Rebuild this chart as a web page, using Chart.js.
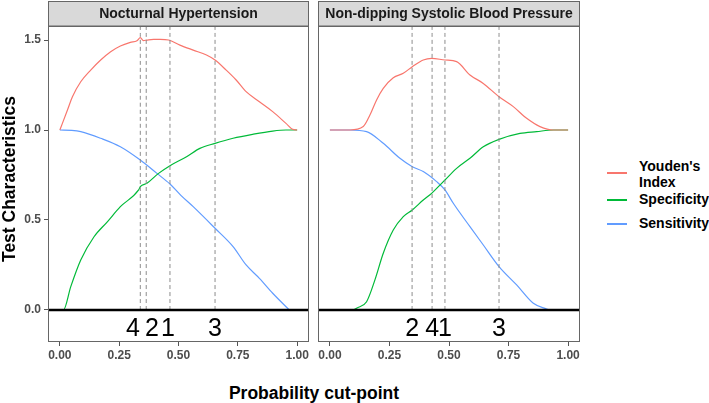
<!DOCTYPE html>
<html>
<head>
<meta charset="utf-8">
<script src="https://cdn.jsdelivr.net/npm/chart.js@4"></script>
<style>
body { margin:0; background:#fff; font-family:"Liberation Sans", Arial, sans-serif; }
#wrap { position:relative; width:709px; height:403px; overflow:hidden; }
canvas { position:absolute; top:0; }
#c1 { left:0; }
#c2 { left:310px; }
.ytitle { position:absolute; left:-91px; top:169px; width:200px; text-align:center; font-weight:bold; font-size:17.5px; line-height:20px; transform:rotate(-90deg); color:#000; }
.xtitle { position:absolute; left:164px; top:383px; width:300px; text-align:center; font-weight:bold; font-size:17.5px; line-height:20px; color:#000; }
.leg { position:absolute; left:607px; font-weight:bold; font-size:14px; color:#000; }
.leg span.ln { position:absolute; left:0; width:20px; height:1.5px; }
.leg span.tx { position:absolute; left:32px; white-space:nowrap; line-height:16px; }
</style>
</head>
<body>
<div id="wrap">
  <canvas id="c1" width="312" height="372"></canvas>
  <canvas id="c2" width="275" height="372"></canvas>
  <div class="ytitle">Test Characteristics</div>
  <div class="xtitle">Probability cut-point</div>
  <div class="leg" style="top:172px"><span class="ln" style="background:#F8766D"></span><span class="tx" style="top:-14px">Youden's<br>Index</span></div>
  <div class="leg" style="top:199px"><span class="ln" style="background:#00BA38"></span><span class="tx" style="top:-8px">Specificity</span></div>
  <div class="leg" style="top:223px"><span class="ln" style="background:#619CFF"></span><span class="tx" style="top:-8px">Sensitivity</span></div>
</div>
<script>
// axis ranges
var X_MIN = -0.05, X_MAX = 1.05;
var Y_MIN = -0.178, Y_MAX = 1.578;
var xTicks = [0, 0.25, 0.5, 0.75, 1];
var yTicks = [0, 0.5, 1, 1.5];

// Nocturnal Hypertension
var nhYoudenX = [0.0, 0.032, 0.053, 0.088, 0.130, 0.172, 0.214, 0.255, 0.297, 0.325, 0.339, 0.352, 0.367, 0.395, 0.423, 0.458, 0.506, 0.562, 0.618, 0.654, 0.701, 0.743, 0.785, 0.841, 0.897, 0.953, 0.981, 1.0];
var nhYoudenY = [1.0, 1.111, 1.185, 1.268, 1.333, 1.389, 1.435, 1.467, 1.487, 1.496, 1.513, 1.497, 1.5, 1.504, 1.504, 1.5, 1.472, 1.444, 1.417, 1.389, 1.333, 1.278, 1.213, 1.157, 1.102, 1.037, 1.004, 1.0];
var nhSpecX = [0.0, 0.015, 0.046, 0.088, 0.144, 0.2, 0.255, 0.332, 0.339, 0.367, 0.416, 0.464, 0.534, 0.59, 0.654, 0.73, 0.813, 0.897, 0.953, 1.0];
var nhSpecY = [0.0, 0.0, 0.13, 0.278, 0.407, 0.49, 0.574, 0.667, 0.685, 0.704, 0.759, 0.802, 0.852, 0.898, 0.926, 0.954, 0.976, 0.994, 1.0, 1.0];
var nhSensX = [0.0, 0.05, 0.088, 0.172, 0.255, 0.339, 0.409, 0.464, 0.51, 0.562, 0.654, 0.73, 0.785, 0.841, 0.897, 0.967];
var nhSensY = [1.0, 0.998, 0.991, 0.954, 0.907, 0.833, 0.759, 0.700, 0.637, 0.574, 0.454, 0.352, 0.25, 0.176, 0.093, 0.0];
var nhCuts = [0.339, 0.364, 0.464, 0.654];
var nhLabels = ['4', '2', '1', '3'];
var nhLabelX = [0.308, 0.388, 0.456, 0.654];

// Non-dipping Systolic Blood Pressure
var ndYoudenX = [0.0, 0.084, 0.14, 0.168, 0.196, 0.224, 0.266, 0.308, 0.346, 0.392, 0.427, 0.483, 0.532, 0.588, 0.644, 0.71, 0.77, 0.826, 0.882, 0.938, 1.0];
var ndYoudenY = [1.0, 1.0, 1.019, 1.083, 1.167, 1.231, 1.29, 1.315, 1.352, 1.389, 1.398, 1.389, 1.38, 1.306, 1.259, 1.185, 1.13, 1.065, 1.019, 1.0, 1.0];
var ndSpecX = [0.1, 0.112, 0.154, 0.189, 0.224, 0.266, 0.308, 0.346, 0.392, 0.427, 0.462, 0.483, 0.532, 0.588, 0.644, 0.71, 0.798, 0.868, 0.938, 1.0];
var ndSpecY = [0.0, 0.01, 0.046, 0.167, 0.315, 0.444, 0.519, 0.556, 0.611, 0.648, 0.694, 0.722, 0.787, 0.843, 0.907, 0.948, 0.981, 0.991, 1.0, 1.0];
var ndSensX = [0.0, 0.084, 0.154, 0.224, 0.294, 0.346, 0.392, 0.448, 0.483, 0.518, 0.588, 0.644, 0.71, 0.784, 0.854, 0.91, 0.92];
var ndSensY = [1.0, 1.0, 0.991, 0.926, 0.843, 0.796, 0.769, 0.713, 0.667, 0.593, 0.463, 0.361, 0.241, 0.139, 0.037, 0.005, 0.0];
var ndCuts = [0.345, 0.429, 0.483, 0.71];
var ndLabels = ['2', '4', '1', '3'];
var ndLabelX = [0.345, 0.429, 0.483, 0.71];

var FONT = '"Liberation Sans", Arial, sans-serif';

function pts(xs, ys) {
    var out = [];
    for (var i = 0; i < xs.length; i++) out.push({x: xs[i], y: ys[i]});
    return out;
}

var panelDeco = {
    id: 'panelDeco',
    afterDraw: function(chart, args, opts) {
        var ctx = chart.ctx, a = chart.chartArea;
        ctx.save();
        // strip
        ctx.fillStyle = '#d9d9d9';
        ctx.fillRect(a.left, 1, a.right - a.left, a.top - 1);
        ctx.strokeStyle = '#666';
        ctx.lineWidth = 1;
        ctx.strokeRect(a.left + 0.5, 1.5, a.right - a.left - 1, a.top - 1.5);
        ctx.fillStyle = '#1a1a1a';
        ctx.font = 'bold 14px ' + FONT;
        ctx.textAlign = 'center';
        ctx.textBaseline = 'middle';
        ctx.fillText(opts.title, (a.left + a.right) / 2, a.top / 2 + 1);
        // panel border
        ctx.strokeRect(a.left + 0.5, a.top + 0.5, a.right - a.left - 1, a.bottom - a.top - 1);
        // cut-point numbers
        ctx.fillStyle = '#000';
        ctx.font = '25px ' + FONT;
        var xs = chart.scales.x, ysc = chart.scales.y;
        for (var i = 0; i < opts.labels.length; i++) {
            ctx.fillText(opts.labels[i], xs.getPixelForValue(opts.labelX[i]), ysc.getPixelForValue(-0.1) + 1);
        }
        ctx.restore();
    }
};

function makePanel(id, title, yx, yy, spx, spy, sex, sey, cuts, labels, labelX, showY) {
    var datasets = [];
    datasets.push({data: [{x: X_MIN, y: 0}, {x: X_MAX, y: 0}], borderColor: '#000', borderWidth: 2.6});
    for (var i = 0; i < cuts.length; i++) {
        datasets.push({data: [{x: cuts[i], y: 0}, {x: cuts[i], y: Y_MAX}], borderColor: '#8c8c8c', borderWidth: 1, borderDash: [4, 3]});
    }
    datasets.push({data: pts(yx, yy), borderColor: '#F8766D', borderWidth: 1.2});
    datasets.push({data: pts(spx, spy), borderColor: '#00BA38', borderWidth: 1.2});
    datasets.push({data: pts(sex, sey), borderColor: '#619CFF', borderWidth: 1.2});

    return new Chart(document.getElementById(id), {
        type: 'line',
        data: {datasets: datasets},
        options: {
            responsive: false,
            animation: false,
            events: [],
            elements: {point: {radius: 0}, line: {cubicInterpolationMode: 'monotone'}},
            layout: {padding: {top: 26, right: showY ? 3 : 5, left: 0, bottom: 0}},
            plugins: {
                legend: {display: false},
                tooltip: {enabled: false},
                panelDeco: {title: title, labels: labels, labelX: labelX}
            },
            scales: {
                x: {
                    type: 'linear', min: X_MIN, max: X_MAX,
                    afterBuildTicks: function(s) { s.ticks = xTicks.map(function(v) { return {value: v}; }); },
                    afterFit: function(s) { s.height = 30; },
                    border: {display: false},
                    grid: {drawOnChartArea: false, drawTicks: true, tickLength: 4, color: '#555'},
                    ticks: {maxRotation: 0, padding: 2, color: '#4d4d4d', font: {family: FONT, size: 12, weight: 'bold'},
                        callback: function(v) { return v.toFixed(2); }}
                },
                y: {
                    type: 'linear', min: Y_MIN, max: Y_MAX,
                    display: showY,
                    afterBuildTicks: function(s) { s.ticks = yTicks.map(function(v) { return {value: v}; }); },
                    afterFit: function(s) { s.width = showY ? 48 : 8; },
                    border: {display: false},
                    grid: {drawOnChartArea: false, drawTicks: true, tickLength: 4, color: '#555'},
                    ticks: {padding: 3, color: '#4d4d4d', font: {family: FONT, size: 12, weight: 'bold'},
                        callback: function(v) { return v.toFixed(1); }}
                }
            }
        },
        plugins: [panelDeco]
    });
}

makePanel('c1', 'Nocturnal Hypertension', nhYoudenX, nhYoudenY, nhSpecX, nhSpecY, nhSensX, nhSensY, nhCuts, nhLabels, nhLabelX, true);
makePanel('c2', 'Non-dipping Systolic Blood Pressure', ndYoudenX, ndYoudenY, ndSpecX, ndSpecY, ndSensX, ndSensY, ndCuts, ndLabels, ndLabelX, false);
</script>
</body>
</html>
